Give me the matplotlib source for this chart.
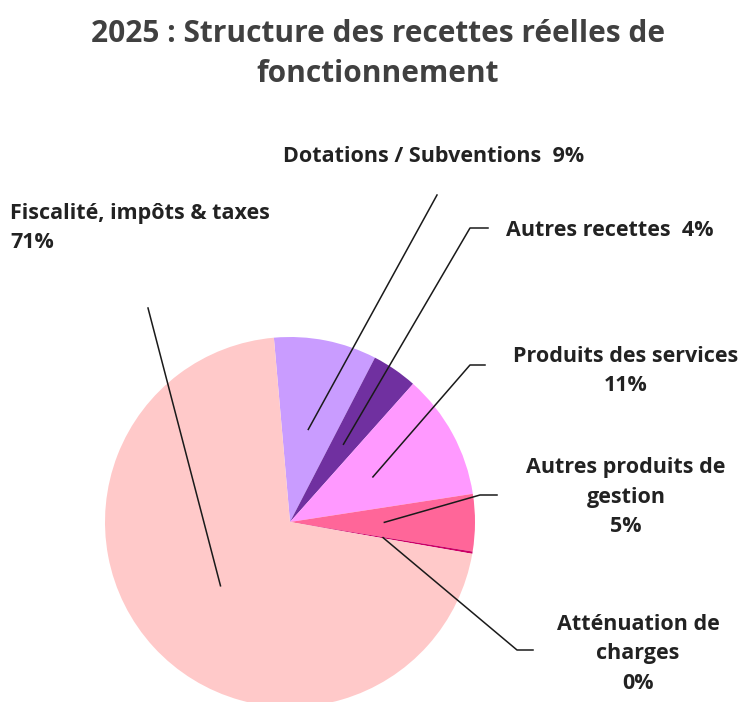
import numpy as np
import matplotlib
matplotlib.use('Agg')
import matplotlib.pyplot as plt

plt.rcParams['font.family'] = ['Open Sans', 'DejaVu Sans']

# données (ordre du tracé, sens horaire depuis le haut)
categories = ['Dotations / Subventions', 'Autres recettes', 'Produits des services',
              'Autres produits de\ngestion', 'Atténuation de\ncharges',
              'Fiscalité, impôts & taxes']
values = [9, 4, 11, 5, 0.2, 71]
colors = ['#C99CFF', '#7030A0', '#FF99FF', '#FF6699', '#CC0066', '#FFC9C9']

H = 702
fig = plt.figure(figsize=(7.45, 7.02), dpi=100)
ax = fig.add_axes([0, 0, 1, 1])

cx, cy, r = 290, H - 522, 185
start = 95
wedges, _ = ax.pie(values, colors=colors, startangle=start, counterclock=False,
                   center=(cx, cy), radius=r, wedgeprops=dict(linewidth=0))
ax.set_xlim(0, 745)
ax.set_ylim(0, H)
ax.set_aspect('equal')
ax.axis('off')

total = sum(values)
pcts = [f'{round(v / total * 100)}%' for v in values]

# étiquettes: (x, y, alignement, texte, point de coude, fin de ligne)
labels = [
    (283, 157, 'left', f'{categories[0]}  {pcts[0]}', None, (437, 195)),
    (506, 231, 'left', f'{categories[1]}  {pcts[1]}', (470, 228), (488, 228)),
    (626, 371, 'center', f'{categories[2]}\n{pcts[2]}', (470, 365), (485, 365)),
    (626, 497, 'center', f'{categories[3]}\n{pcts[3]}', (480, 495), (497, 495)),
    (638, 654, 'center', f'{categories[4]}\n{pcts[4]}', (517, 650), (533, 650)),
    (10, 228, 'left', f'{categories[5]}\n{pcts[5]}', None, (148, 308)),
]

ang = start
for v, (lx, ly, ha, txt, elbow, end) in zip(values, labels):
    sweep = v / total * 360
    mid = np.deg2rad(ang - sweep / 2)
    ang -= sweep
    px = cx + 0.51 * r * np.cos(mid)
    py = cy + 0.51 * r * np.sin(mid)
    xs, ys = [px], [py]
    if elbow is not None:
        xs.append(elbow[0]); ys.append(H - elbow[1])
    xs.append(end[0]); ys.append(H - end[1])
    ax.plot(xs, ys, color='#1a1a1a', lw=1.1)
    ax.text(lx, H - ly, txt, ha=ha, va='center', fontsize=15.5, fontweight='bold',
            color='#222222', linespacing=1.55, multialignment=ha)

ax.text(378, H - 54, '2025 : Structure des recettes réelles de\nfonctionnement',
        ha='center', va='center', fontsize=21.5, fontweight='bold', color='#404040',
        linespacing=1.4)

fig.savefig('out.png', dpi=100)
